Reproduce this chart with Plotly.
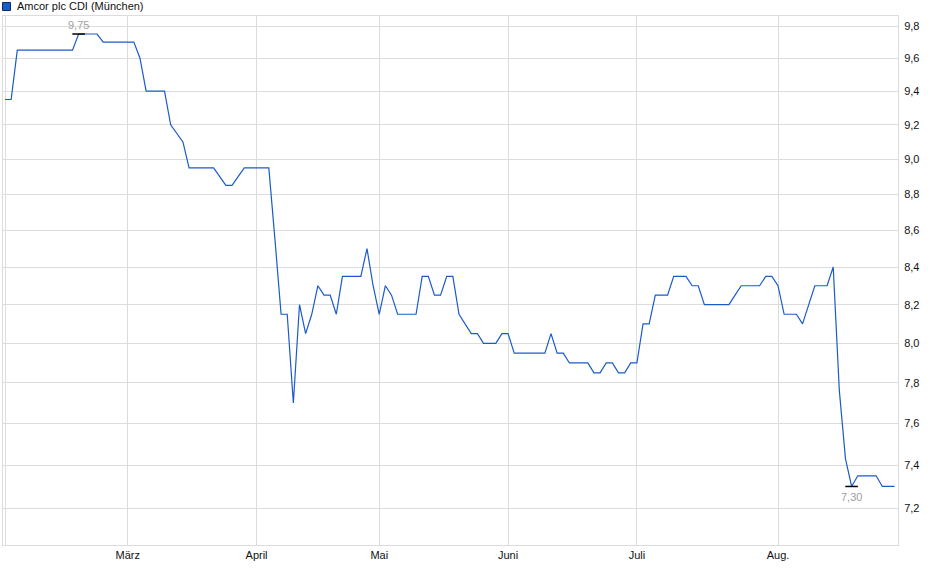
import math
import pandas as pd
import plotly.graph_objects as go

# ---- data ----
holidays = ["2025-04-18", "2025-04-21", "2025-05-01"]
dates = [d.strftime("%Y-%m-%d") for d in pd.bdate_range("2025-02-03", "2025-08-28")
         if d.strftime("%Y-%m-%d") not in holidays]

feb = [9.35, 9.35] + [9.65] * 10 + [9.75] * 4 + [9.70] * 4
mar = [9.70, 9.70, 9.60, 9.40, 9.40, 9.40, 9.40, 9.20, 9.15, 9.10,
       8.95, 8.95, 8.95, 8.95, 8.95, 8.90, 8.85, 8.85, 8.90, 8.95, 8.95]
apr = [8.95, 8.95, 8.95, 8.55, 8.15, 8.15, 7.70, 8.20, 8.05, 8.15,
       8.30, 8.25, 8.25, 8.15, 8.35, 8.35, 8.35, 8.35, 8.50, 8.30]
may = [8.15, 8.30, 8.25, 8.15, 8.15, 8.15, 8.15, 8.35, 8.35, 8.25,
       8.25, 8.35, 8.35, 8.15, 8.10, 8.05, 8.05, 8.00, 8.00, 8.00, 8.05]
jun = [8.05, 7.95, 7.95, 7.95, 7.95, 7.95, 7.95, 8.05, 7.95, 7.95,
       7.90, 7.90, 7.90, 7.90, 7.85, 7.85, 7.90, 7.90, 7.85, 7.85, 7.90]
jul = [7.90, 8.10, 8.10, 8.25, 8.25, 8.25, 8.35, 8.35, 8.35, 8.30,
       8.30, 8.20, 8.20, 8.20, 8.20, 8.20, 8.25, 8.30, 8.30, 8.30,
       8.30, 8.35, 8.35]
aug = [8.30, 8.15, 8.15, 8.15, 8.10, 8.20, 8.30, 8.30, 8.30, 8.40,
       7.76, 7.43, 7.30, 7.35, 7.35, 7.35, 7.35, 7.30, 7.30, 7.30]
prices = feb + mar + apr + may + jun + jul + aug

month_starts = ["2025-02-03", "2025-03-03", "2025-04-01", "2025-05-02",
                "2025-06-02", "2025-07-01", "2025-08-01"]
month_labels = ["", "März", "April", "Mai", "Juni", "Juli", "Aug."]
y_ticks = [7.2, 7.4, 7.6, 7.8, 8.0, 8.2, 8.4, 8.6, 8.8, 9.0, 9.2, 9.4, 9.6, 9.8]
series_name = "Amcor plc CDI (München)"

LINE = "#1a5bc8"
GRID = "#dcdcdc"
FONT = "Liberation Sans, Arial, sans-serif"

imax = max(range(len(prices)), key=lambda i: prices[i])
imin = min(range(len(prices)), key=lambda i: prices[i])

fig = go.Figure()
fig.add_trace(go.Scatter(x=dates, y=prices, mode="lines",
                         line=dict(color=LINE, width=1.2),
                         showlegend=False, hoverinfo="x+y"))
fig.add_trace(go.Scatter(x=[dates[imax], dates[imin]], y=[prices[imax], prices[imin]],
                         mode="markers",
                         marker=dict(symbol="line-ew", size=9, color="black",
                                     line=dict(color="black", width=1.5)),
                         showlegend=False, hoverinfo="skip"))

fmt = lambda v: f"{v:.2f}".replace(".", ",")
fig.add_annotation(x=dates[imax], y=math.log10(prices[imax]), text=fmt(prices[imax]),
                   showarrow=False, yanchor="bottom", yshift=1,
                   font=dict(family=FONT, size=11, color="#a0a0a0"))
fig.add_annotation(x=dates[imin], y=math.log10(prices[imin]), text=fmt(prices[imin]),
                   showarrow=False, yanchor="top", yshift=-3,
                   font=dict(family=FONT, size=11, color="#a0a0a0"))

# legend (square + text) above plot
W, H = 940, 579
L, R, T, B = 3, 898, 16, 545
px = lambda x: (x - L) / (R - L)
py = lambda y: (B - y) / (B - T)
fig.add_shape(type="rect", xref="paper", yref="paper",
              x0=px(2.5), x1=px(10.5), y0=py(10.5), y1=py(2.5),
              fillcolor=LINE, line=dict(color="#102a60", width=1))
fig.add_annotation(xref="paper", yref="paper", x=px(15), y=py(6.5),
                   xanchor="left", yanchor="middle", showarrow=False,
                   text=series_name, font=dict(family=FONT, size=11, color="#111"))

fig.update_layout(
    width=W, height=H,
    margin=dict(l=L, r=W - R, t=T, b=H - B, pad=0),
    paper_bgcolor="white", plot_bgcolor="white",
    separators=",.",
    font=dict(family=FONT, size=11, color="#111"),
    xaxis=dict(type="category", range=[-0.33, len(dates) - 1 + 0.56],
               tickmode="array", tickvals=month_starts, ticktext=month_labels,
               showgrid=True, gridcolor=GRID, gridwidth=1,
               showline=True, linecolor=GRID, linewidth=1, mirror=True,
               ticks="", tickfont=dict(family=FONT, size=11, color="#111"),
               zeroline=False, fixedrange=True),
    yaxis=dict(type="log", side="right",
               range=[0.84706, 0.99401],
               tickmode="array", tickvals=y_ticks, tickformat=".1f",
               showgrid=True, gridcolor=GRID, gridwidth=1,
               showline=True, linecolor=GRID, linewidth=1, mirror=True,
               ticks="", ticklabelstandoff=3,
               tickfont=dict(family=FONT, size=11, color="#111"),
               zeroline=False, fixedrange=True),
)

fig.write_html("out.html", config={"displayModeBar": False},
               post_script="document.body.style.margin='0';document.body.style.padding='0';")
